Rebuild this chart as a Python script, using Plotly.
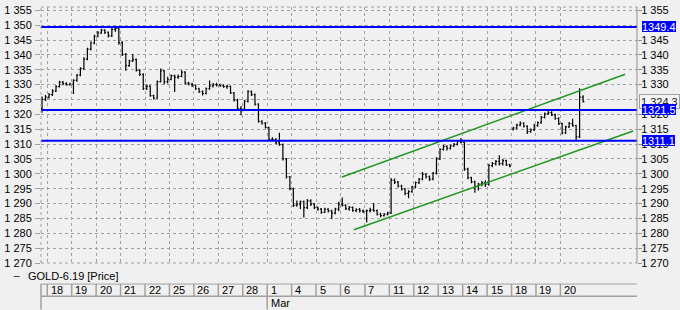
import plotly.graph_objects as go

# ---------------- data ----------------
day_labels = ["18", "19", "20", "21", "22", "25", "26", "27", "28", "1", "4", "5",
              "6", "7", "11", "12", "13", "14", "15", "18", "19", "20"]
month_label = "Mar"
month_day_index = 9
bars_per_slot = 7
# first entry = tail of the previous session, then one entry per trading day
bars_per_day = [2] + [7] * 22

bar_open = [
    1322.0, 1325.0,
    1325.8, 1326.6, 1327.8, 1329.3, 1330.8, 1330.3, 1330.0,
    1330.2, 1331.4, 1333.2, 1335.4, 1338.6, 1341.9, 1344.0,
    1346.3, 1347.4, 1348.3, 1347.6, 1346.4, 1348.6, 1348.9,
    1344.1, 1340.2, 1336.4, 1338.0, 1338.4, 1334.8, 1333.4,
    1328.6, 1329.5, 1326.3, 1325.5, 1331.0, 1334.6, 1331.0,
    1331.8, 1333.0, 1332.4, 1332.8, 1334.2, 1330.5, 1330.2,
    1329.8, 1328.6, 1327.6, 1327.0, 1328.6, 1329.6, 1330.0,
    1329.9, 1329.6, 1329.3, 1329.4, 1327.2, 1324.8, 1321.9,
    1321.8, 1324.4, 1327.6, 1326.6, 1323.4, 1317.6, 1317.0,
    1315.6, 1311.6, 1311.5, 1310.4, 1309.8, 1305.0, 1299.0,
    1295.0, 1289.4, 1289.8, 1290.6, 1288.6, 1290.9, 1289.8,
    1288.6, 1288.1, 1287.0, 1288.1, 1287.5, 1286.8, 1288.1,
    1289.8, 1289.4, 1288.2, 1288.7, 1287.6, 1288.0, 1287.5,
    1287.4, 1287.6, 1287.9, 1287.6, 1286.4, 1285.9, 1286.4,
    1286.8, 1297.8, 1297.2, 1295.9, 1294.8, 1293.4, 1294.0,
    1295.6, 1297.0, 1298.2, 1299.8, 1299.0, 1298.2, 1300.2,
    1305.0, 1308.2, 1309.2, 1308.6, 1309.4, 1309.9, 1311.0,
    1310.6, 1301.6, 1298.7, 1297.3, 1295.8, 1296.5, 1297.0,
    1296.4, 1302.8, 1303.4, 1304.2, 1303.4, 1304.4, 1303.0,
    1315.0, 1315.4, 1316.4, 1317.0, 1316.0, 1314.2, 1314.8,
    1316.2, 1317.2, 1319.0, 1320.2, 1320.6, 1319.8, 1318.6,
    1316.9, 1313.8, 1315.8, 1316.9, 1316.2, 1312.4, 1325.8,
]
bar_high = [
    1326.0, 1326.5,
    1327.2, 1328.4, 1329.8, 1331.3, 1331.2, 1330.8, 1330.6,
    1331.8, 1333.6, 1335.8, 1339.2, 1342.4, 1344.5, 1346.8,
    1348.0, 1348.8, 1348.6, 1347.9, 1349.0, 1349.4, 1349.2,
    1344.6, 1340.6, 1338.4, 1340.3, 1338.8, 1335.2, 1333.8,
    1330.0, 1329.8, 1326.6, 1331.4, 1335.4, 1334.9, 1332.6,
    1333.4, 1333.3, 1333.4, 1334.8, 1334.5, 1331.0, 1330.6,
    1330.0, 1328.9, 1328.0, 1329.0, 1331.4, 1330.5, 1330.6,
    1330.3, 1330.0, 1329.9, 1329.7, 1327.5, 1325.2, 1322.8,
    1324.8, 1328.2, 1328.0, 1327.0, 1323.7, 1318.0, 1317.4,
    1315.8, 1312.3, 1312.0, 1313.8, 1310.2, 1305.3, 1299.3,
    1295.3, 1291.0, 1291.0, 1291.0, 1291.5, 1291.4, 1290.2,
    1289.0, 1288.5, 1288.6, 1288.4, 1287.9, 1288.6, 1290.6,
    1292.0, 1289.8, 1289.2, 1289.0, 1288.4, 1288.5, 1288.0,
    1288.0, 1288.6, 1290.2, 1288.0, 1286.9, 1286.8, 1287.2,
    1298.6, 1298.4, 1297.6, 1296.3, 1295.2, 1294.5, 1296.0,
    1297.4, 1298.6, 1300.6, 1300.2, 1299.4, 1300.6, 1305.6,
    1308.6, 1309.8, 1309.6, 1309.8, 1310.4, 1311.4, 1312.0,
    1310.8, 1302.0, 1299.0, 1297.7, 1297.0, 1297.6, 1297.8,
    1303.4, 1304.0, 1304.6, 1306.2, 1305.0, 1304.7, 1303.4,
    1315.8, 1316.8, 1317.6, 1317.3, 1316.3, 1315.2, 1316.8,
    1317.6, 1319.4, 1320.6, 1321.2, 1321.0, 1320.2, 1319.0,
    1317.2, 1316.2, 1317.4, 1318.5, 1316.5, 1328.8, 1326.4,
]
bar_low = [
    1320.5, 1324.5,
    1325.3, 1326.2, 1327.5, 1329.0, 1329.8, 1329.6, 1329.7,
    1326.8, 1331.0, 1332.8, 1335.0, 1338.2, 1341.5, 1343.6,
    1345.9, 1347.0, 1347.0, 1345.8, 1346.0, 1347.8, 1343.4,
    1339.6, 1334.7, 1336.0, 1337.6, 1334.4, 1332.9, 1328.2,
    1328.2, 1325.9, 1325.0, 1325.2, 1330.7, 1330.0, 1330.4,
    1331.5, 1327.5, 1332.0, 1332.5, 1330.0, 1329.8, 1329.2,
    1328.2, 1327.2, 1326.3, 1326.7, 1328.3, 1329.0, 1329.4,
    1329.3, 1328.9, 1328.6, 1326.8, 1324.3, 1321.4, 1319.7,
    1321.5, 1324.0, 1326.2, 1323.0, 1317.2, 1316.6, 1315.2,
    1311.0, 1311.0, 1310.0, 1309.4, 1304.5, 1298.4, 1294.5,
    1288.8, 1288.9, 1288.2, 1285.3, 1288.2, 1289.2, 1288.2,
    1287.6, 1286.6, 1286.8, 1287.0, 1284.8, 1286.4, 1287.4,
    1289.0, 1287.8, 1287.6, 1287.2, 1287.1, 1287.0, 1286.8,
    1283.6, 1287.0, 1287.2, 1286.0, 1285.4, 1285.6, 1286.0,
    1286.5, 1296.6, 1295.4, 1294.4, 1292.8, 1291.8, 1293.6,
    1295.2, 1296.6, 1297.8, 1298.4, 1297.6, 1297.8, 1299.8,
    1304.6, 1307.8, 1307.8, 1308.2, 1309.0, 1309.5, 1310.2,
    1301.0, 1298.2, 1296.8, 1293.6, 1294.4, 1295.8, 1295.6,
    1296.0, 1302.2, 1302.8, 1302.8, 1302.8, 1302.6, 1302.2,
    1314.6, 1315.0, 1316.0, 1315.6, 1313.4, 1313.8, 1314.4,
    1315.8, 1316.8, 1318.6, 1319.8, 1319.4, 1318.2, 1316.4,
    1313.2, 1313.4, 1315.4, 1315.8, 1311.1, 1312.0, 1324.0,
]
bar_close = [
    1325.0, 1325.8,
    1326.6, 1327.8, 1329.3, 1330.8, 1330.3, 1330.0, 1330.2,
    1331.4, 1333.2, 1335.4, 1338.6, 1341.9, 1344.0, 1346.3,
    1347.4, 1348.3, 1347.6, 1346.4, 1348.6, 1348.9, 1344.1,
    1340.2, 1336.4, 1338.0, 1338.4, 1334.8, 1333.4, 1328.6,
    1329.5, 1326.3, 1325.5, 1331.0, 1334.6, 1331.0, 1331.8,
    1333.0, 1332.4, 1332.8, 1334.2, 1330.5, 1330.2, 1329.8,
    1328.6, 1327.6, 1327.0, 1328.6, 1329.6, 1330.0, 1329.9,
    1329.6, 1329.3, 1329.4, 1327.2, 1324.8, 1321.9, 1321.8,
    1324.4, 1327.6, 1326.6, 1323.4, 1317.6, 1317.0, 1315.6,
    1311.6, 1311.5, 1310.4, 1309.8, 1305.0, 1299.0, 1295.0,
    1289.4, 1289.8, 1290.6, 1288.6, 1290.9, 1289.8, 1288.6,
    1288.1, 1287.0, 1288.1, 1287.5, 1286.8, 1288.1, 1289.8,
    1289.4, 1288.2, 1288.7, 1287.6, 1288.0, 1287.5, 1287.4,
    1287.6, 1287.9, 1287.6, 1286.4, 1285.9, 1286.4, 1286.8,
    1297.8, 1297.2, 1295.9, 1294.8, 1293.4, 1294.0, 1295.6,
    1297.0, 1298.2, 1299.8, 1299.0, 1298.2, 1300.2, 1305.0,
    1308.2, 1309.2, 1308.6, 1309.4, 1309.9, 1311.0, 1310.6,
    1301.6, 1298.7, 1297.3, 1295.8, 1296.5, 1297.0, 1296.4,
    1302.8, 1303.4, 1304.2, 1303.4, 1304.4, 1303.0, 1302.6,
    1315.4, 1316.4, 1317.0, 1316.0, 1314.2, 1314.8, 1316.2,
    1317.2, 1319.0, 1320.2, 1320.6, 1319.8, 1318.6, 1316.9,
    1313.8, 1315.8, 1316.9, 1316.2, 1312.4, 1325.8, 1324.3,
]

levels = [1349.4, 1321.5, 1311.1]
level_labels = ["1349.4", "1321.5", "1311.1"]
last_price = 1324.3
last_price_label = "1 324.3"
# right-axis ticks that are completely hidden behind the price boxes in the reference
right_hidden_ticks = [1350, 1325]

upper_channel_x = [12.06, 23.65]
upper_channel_y = [1298.9, 1333.5]
lower_channel_x = [12.55, 23.98]
lower_channel_y = [1281.2, 1314.4]

legend_text = "GOLD-6.19 [Price]"

# ---------------- build ----------------
xs = []
for d, n in enumerate(bars_per_day):
    day = d - 1
    offset = bars_per_slot - n if d == 0 else 0
    for k in range(n):
        xs.append(day + (offset + k + 0.5) / bars_per_slot)

W, H = 680, 310
ML, MR, MT, MB = 37, 43, 4, 47
PW, PH = W - ML - MR, H - MT - MB
DAY_PX = 24.6
x0 = -(43.3 - ML) / DAY_PX
x1 = x0 + PW / DAY_PX
y_lo, y_hi = 1270, 1356.1


def py(pix):  # figure pixel row -> paper y
    return (H - MB - pix) / PH


def px(pix):  # figure pixel column -> paper x
    return (pix - ML) / PW


GRID = "#a0a0a0"
BG = "#f0f0f0"
FONT = "Liberation Sans, Arial, sans-serif"

fig = go.Figure()
fig.add_trace(go.Ohlc(
    x=xs, open=bar_open, high=bar_high, low=bar_low, close=bar_close,
    increasing=dict(line=dict(color="black", width=1.2)),
    decreasing=dict(line=dict(color="black", width=1.2)),
    tickwidth=0.35, hoverinfo="skip", showlegend=False,
))
for lx, ly in ((upper_channel_x, upper_channel_y), (lower_channel_x, lower_channel_y)):
    fig.add_trace(go.Scatter(x=lx, y=ly, mode="lines",
                             line=dict(color="#1f961f", width=1.5),
                             hoverinfo="skip", showlegend=False))
for lv in levels:
    fig.add_trace(go.Scatter(x=[x0, x1], y=[lv, lv], mode="lines",
                             line=dict(color="#0000ff", width=2),
                             hoverinfo="skip", showlegend=False))
# invisible trace to activate the right-hand axis
fig.add_trace(go.Scatter(x=[0], y=[1300], yaxis="y2", mode="markers",
                         marker=dict(opacity=0), hoverinfo="skip", showlegend=False))

shapes = []
annotations = []

# plot borders
shapes.append(dict(type="line", xref="paper", yref="paper", x0=0, x1=0, y0=0, y1=1,
                   line=dict(color=GRID, width=1, dash="dot")))
shapes.append(dict(type="line", xref="paper", yref="paper", x0=0, x1=1, y0=1, y1=1,
                   line=dict(color=GRID, width=1, dash="dot")))
shapes.append(dict(type="line", xref="paper", yref="paper", x0=0, x1=1, y0=0, y1=0,
                   line=dict(color=GRID, width=1, dash="dot")))
shapes.append(dict(type="line", xref="paper", yref="paper", x0=1, x1=1, y0=0, y1=1,
                   line=dict(color="#909090", width=1)))

# last price label (drawn first so the blue boxes stay on top)
annotations.append(dict(xref="paper", yref="y", x=px(639.5), y=last_price, xanchor="left",
                        yanchor="middle", text=last_price_label, showarrow=False,
                        height=11, valign="middle",
                        bgcolor="#f4f4f4", bordercolor="#a0a0a0", borderwidth=1, borderpad=1,
                        font=dict(color="#202020", size=11, family=FONT)))

# level labels (blue boxes)
for lv, lab in zip(levels, level_labels):
    annotations.append(dict(xref="paper", yref="y", x=px(642.5), y=lv, xanchor="left",
                            yanchor="middle", text=lab, showarrow=False,
                            height=11, valign="middle",
                            bgcolor="#0000ff", borderpad=0, borderwidth=0,
                            font=dict(color="white", size=11, family=FONT)))

# date row
row_top, row_bot, fig_bot = py(284.3), py(296.7), py(310)
shapes.append(dict(type="line", xref="paper", yref="paper", x0=0, x1=1, y0=row_top, y1=row_top,
                   line=dict(color="#a0a0a0", width=1)))
shapes.append(dict(type="line", xref="paper", yref="paper", x0=0, x1=1, y0=row_bot, y1=row_bot,
                   line=dict(color="#a0a0a0", width=1.5)))
shapes.append(dict(type="line", xref="paper", yref="paper", x0=0, x1=0, y0=row_top, y1=fig_bot,
                   line=dict(color="#a0a0a0", width=1.5)))
for i, lab in enumerate(day_labels):
    y_end = fig_bot if i == month_day_index else row_bot
    shapes.append(dict(type="line", xref="x", yref="paper", x0=i, x1=i, y0=row_top, y1=y_end,
                       line=dict(color="#a0a0a0", width=1.5)))
    annotations.append(dict(xref="x", yref="paper", x=i, y=py(290.5), xanchor="left",
                            yanchor="middle", xshift=1.5, text=lab, showarrow=False,
                            font=dict(color="black", size=11, family=FONT)))
annotations.append(dict(xref="x", yref="paper", x=month_day_index, y=py(303.5), xanchor="left",
                        yanchor="middle", xshift=1.5, text=month_label, showarrow=False,
                        font=dict(color="black", size=11, family=FONT)))

# legend
shapes.append(dict(type="line", xref="paper", yref="paper", x0=px(9.5), x1=px(15.5),
                   y0=py(276.7), y1=py(276.7), line=dict(color="#404040", width=1)))
annotations.append(dict(xref="paper", yref="paper", x=px(21.5), y=py(276.5), xanchor="left",
                        yanchor="middle", text=legend_text, showarrow=False,
                        font=dict(color="black", size=11, family=FONT)))

tick_values = list(range(y_lo, 1356, 5))
right_ticks = [v for v in tick_values if v not in right_hidden_ticks]
right_text = [f"{v // 1000} {v % 1000:03d}" for v in right_ticks]

yaxis_common = dict(range=[y_lo, y_hi], tickformat=",d",
                    tickfont=dict(size=11, color="black", family=FONT),
                    showline=False, zeroline=False, fixedrange=True)

fig.update_layout(
    width=W, height=H,
    margin=dict(l=ML, r=MR, t=MT, b=MB, pad=0),
    paper_bgcolor=BG, plot_bgcolor=BG,
    separators=". ",
    font=dict(family=FONT, size=11, color="black"),
    showlegend=False,
    xaxis=dict(range=[x0, x1], tickvals=list(range(len(day_labels))), showticklabels=False,
               ticks="", showgrid=True, gridcolor=GRID, griddash="dot", gridwidth=1,
               zeroline=False, showline=False, rangeslider=dict(visible=False)),
    yaxis=dict(**yaxis_common, side="left", tickvals=tick_values, ticks="outside", ticklen=5,
               tickcolor=GRID, showgrid=True, gridcolor=GRID, griddash="dot", gridwidth=1,
               ticklabelstandoff=1),
    yaxis2=dict(**yaxis_common, side="right", overlaying="y", tickvals=right_ticks,
                ticktext=right_text, ticks="outside", ticklen=4,
                tickcolor="#909090", showgrid=False, ticklabelstandoff=-3),
    shapes=shapes,
    annotations=annotations,
)

fig.write_html("out.html")
